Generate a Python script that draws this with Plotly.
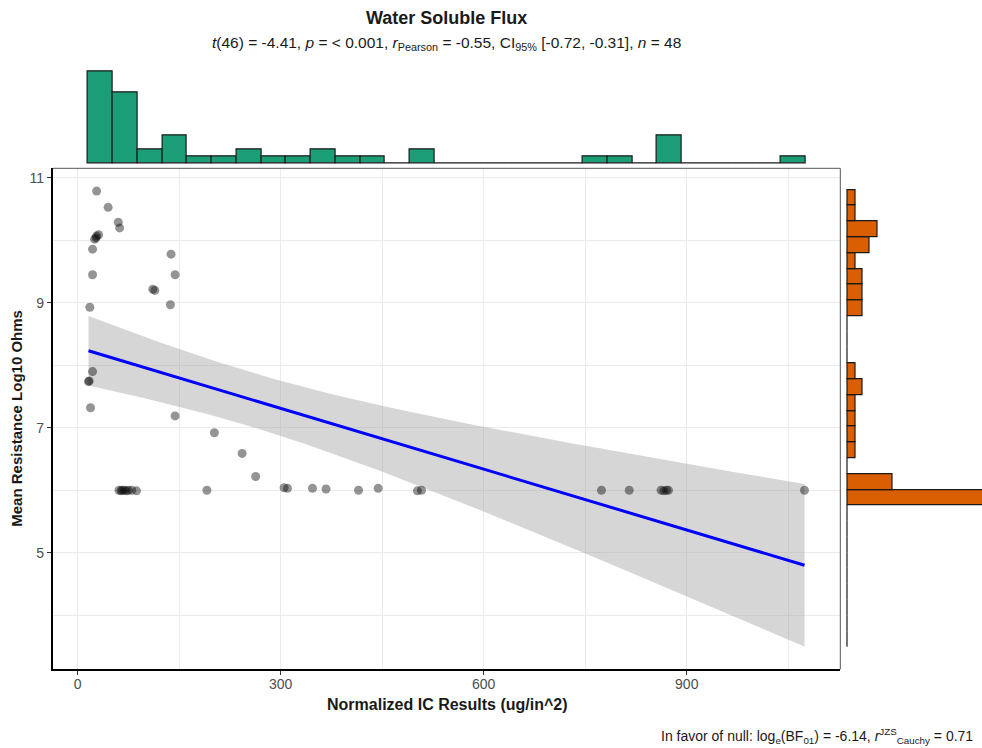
import numpy as np
import plotly.graph_objects as go

# Normalized IC results (ug/in^2) per sample
ic_results = [
    28, 45, 60, 62, 25, 27, 28, 31, 22, 22, 111, 114, 138, 144, 137, 18,
    22, 16, 17, 19, 144, 202, 243, 263,
    61, 64, 66, 69, 72, 75, 80, 87,
    191, 305, 310, 347, 367, 415, 444, 502, 508, 774, 815, 862, 866, 870, 873, 1074,
]
# Mean resistance (log10 ohms) per sample
log_resistance = [
    10.79, 10.53, 10.29, 10.20, 10.02, 10.04, 10.07, 10.09, 9.86, 9.45, 9.22, 9.20, 9.78, 9.45, 8.97, 8.93,
    7.90, 7.74, 7.75, 7.32, 7.19, 6.92, 6.59, 6.22,
    6.00, 5.99, 6.00, 6.00, 5.99, 6.00, 6.00, 5.99,
    6.00, 6.04, 6.03, 6.03, 6.02, 6.00, 6.03, 5.99, 6.00, 6.00, 6.00, 6.00, 5.99, 6.00, 6.00, 6.00,
]

x_ticks = [0, 300, 600, 900]
y_ticks = [5, 7, 9, 11]

title_text = "<b>Water Soluble Flux</b>"
subtitle_text = ("<i>t</i>(46) = -4.41, <i>p</i> = &lt; 0.001, <i>r</i><sub>Pearson</sub> = -0.55, "
                 "CI<sub>95%</sub> [-0.72, -0.31], <i>n</i> = 48")
caption_text = ("In favor of null: log<sub>e</sub>(BF<sub>01</sub>) = -6.14, "
                "<i>r</i><sup>JZS</sup><sub>Cauchy</sub> = 0.71")
x_title = "<b>Normalized IC Results (ug/in^2)</b>"
y_title = "<b>Mean Resistance Log10 Ohms</b>"

# histogram binning (29 bins each)
N_BINS = 29
X_BIN_START, X_BIN_SIZE = 15.5, 36.55
Y_BIN_START, Y_BIN_SIZE = 3.48, 0.2527
T_CRIT_46 = 2.0129  # 97.5% quantile of t with 46 df

FONT = "Liberation Sans, Arial, Helvetica, sans-serif"

x = np.array(ic_results, dtype=float)
y = np.array(log_resistance, dtype=float)
n = len(x)

# linear fit with 95% confidence band
slope, intercept = np.polyfit(x, y, 1)
resid = y - (slope * x + intercept)
s = np.sqrt(np.sum(resid ** 2) / (n - 2))
sxx = np.sum((x - x.mean()) ** 2)
xf = np.linspace(x.min(), x.max(), 80)
yf = slope * xf + intercept
se = s * np.sqrt(1 / n + (xf - x.mean()) ** 2 / sxx)
lo, hi = yf - T_CRIT_46 * se, yf + T_CRIT_46 * se

# axis ranges with 5% padding
def padded(a, b, f=0.05):
    d = (b - a) * f
    return [a - d, b + d]

x_range = padded(x.min(), x.max())
y_range = padded(min(y.min(), lo.min()), max(y.max(), hi.max()))

# marginal counts
x_edges = X_BIN_START + X_BIN_SIZE * np.arange(N_BINS + 1)
y_edges = Y_BIN_START + Y_BIN_SIZE * np.arange(N_BINS + 1)
x_counts, _ = np.histogram(x, bins=x_edges)
y_counts, _ = np.histogram(y, bins=y_edges)
x_centers = x_edges[:-1] + X_BIN_SIZE / 2
y_centers = y_edges[:-1] + Y_BIN_SIZE / 2

fig = go.Figure()

fig.add_trace(go.Scatter(
    x=np.concatenate([xf, xf[::-1]]), y=np.concatenate([hi, lo[::-1]]),
    fill="toself", fillcolor="rgba(153,153,153,0.4)", line=dict(width=0),
    mode="lines", hoverinfo="skip", xaxis="x", yaxis="y"))
fig.add_trace(go.Scatter(
    x=x, y=y, mode="markers",
    marker=dict(size=9, color="rgba(0,0,0,0.42)", line=dict(width=0)),
    xaxis="x", yaxis="y"))
fig.add_trace(go.Scatter(
    x=xf, y=yf, mode="lines", line=dict(color="#0000FF", width=3),
    xaxis="x", yaxis="y"))

fig.add_trace(go.Bar(
    x=x_centers, y=x_counts, width=X_BIN_SIZE,
    marker=dict(color="#1B9E77", line=dict(color="#1a1a1a", width=1.2)),
    xaxis="x2", yaxis="y2"))
fig.add_trace(go.Bar(
    y=y_centers, x=y_counts, width=Y_BIN_SIZE, orientation="h",
    marker=dict(color="#D95F02", line=dict(color="#1a1a1a", width=1.2)),
    xaxis="x3", yaxis="y3"))

main_x = [52.7 / 982, 840.3 / 982]
main_y = [1 - 669.3 / 748, 1 - 168.3 / 748]
grid = "#EBEBEB"
tickfont = dict(family=FONT, size=14, color="#4D4D4D")

fig.update_layout(
    width=982, height=748,
    margin=dict(l=0, r=0, t=0, b=0),
    paper_bgcolor="white", plot_bgcolor="white",
    showlegend=False, bargap=0,
    font=dict(family=FONT),
    xaxis=dict(domain=main_x, range=x_range, anchor="y",
               tickvals=x_ticks, ticks="outside", ticklen=4, tickcolor="#333333",
               tickfont=tickfont, ticklabelstandoff=-3,
               showgrid=True, gridcolor=grid, gridwidth=1,
               minor=dict(tickvals=[150, 450, 750, 1050], showgrid=True, gridcolor=grid, ticks=""),
               showline=True, linecolor="black", linewidth=1.5, zeroline=False),
    yaxis=dict(domain=main_y, range=y_range, anchor="x",
               tickvals=y_ticks, ticks="outside", ticklen=4, tickcolor="#333333",
               tickfont=tickfont, showgrid=True, gridcolor=grid, gridwidth=1,
               minor=dict(tickvals=[4, 6, 8, 10], showgrid=True, gridcolor=grid, ticks=""),
               showline=True, linecolor="black", linewidth=1.5, zeroline=False),
    xaxis2=dict(matches="x", anchor="y2", domain=main_x, visible=False),
    yaxis2=dict(domain=[main_y[1], 1 - 66.4 / 748], anchor="x2",
                range=[-0.05 * x_counts.max(), 1.05 * x_counts.max()], visible=False),
    xaxis3=dict(domain=[840.6 / 982, 1.0], anchor="y3",
                range=[-0.05 * y_counts.max(), 0.95 * y_counts.max()], visible=False),
    yaxis3=dict(matches="y", anchor="x3", domain=main_y, visible=False),
    shapes=[
        dict(type="line", xref="x domain", yref="y domain", x0=0, x1=1, y0=1, y1=1,
             line=dict(color="#555555", width=1)),
        dict(type="line", xref="x domain", yref="y domain", x0=1, x1=1, y0=0, y1=1,
             line=dict(color="#555555", width=1)),
    ],
    annotations=[
        dict(text=title_text, x=sum(main_x) / 2, y=1 - 18 / 748, xref="paper", yref="paper",
             showarrow=False, xanchor="center", yanchor="middle",
             font=dict(family=FONT, size=18, color="#1a1a1a")),
        dict(text=subtitle_text, x=sum(main_x) / 2, y=1 - 43 / 748, xref="paper", yref="paper",
             showarrow=False, xanchor="center", yanchor="middle",
             font=dict(family=FONT, size=15.5, color="#1a1a1a")),
        dict(text=x_title, x=sum(main_x) / 2, y=1 - 704 / 748, xref="paper", yref="paper",
             showarrow=False, xanchor="center", yanchor="middle",
             font=dict(family=FONT, size=16, color="#1a1a1a")),
        dict(text=y_title, x=17 / 982, y=sum(main_y) / 2, xref="paper", yref="paper",
             showarrow=False, xanchor="center", yanchor="middle", textangle=-90,
             font=dict(family=FONT, size=15, color="#1a1a1a")),
        dict(text=caption_text, x=975 / 982, y=1 - 736 / 748, xref="paper", yref="paper",
             showarrow=False, xanchor="right", yanchor="middle",
             font=dict(family=FONT, size=14, color="#1a1a1a")),
    ],
)

fig.write_html("out.html")
